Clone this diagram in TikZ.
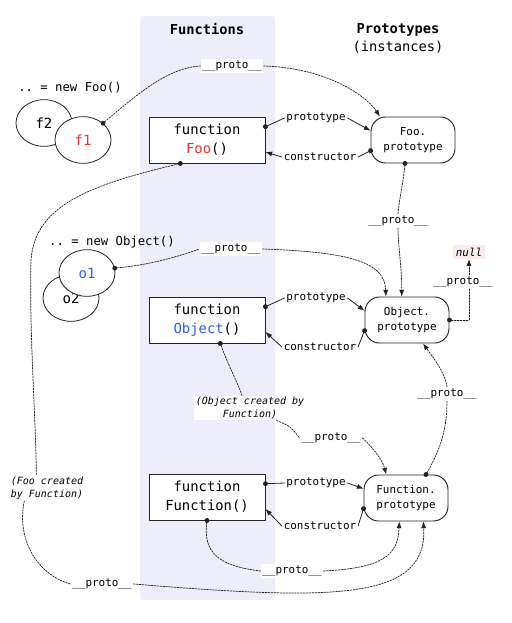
\documentclass[tikz,border=0pt]{standalone}
\usepackage{fontspec}
\setmonofont{DejaVu Sans Mono}
\usetikzlibrary{arrows.meta,shapes.geometric,positioning}
\definecolor{bandcol}{HTML}{EEEEFB}
\definecolor{foocol}{HTML}{E8362C}
\definecolor{objcol}{HTML}{2D5FEA}
\definecolor{nullcol}{HTML}{FBEBEB}
\definecolor{inkcol}{HTML}{222222}
\tikzset{
  fnbox/.style={draw=inkcol,line width=0.7pt,fill=white,minimum width=87pt,minimum height=34.5pt,
    align=center,inner sep=0pt,font=\ttfamily\fontsize{10.4}{14.3}\selectfont},
  protobox/.style={draw=inkcol,line width=0.7pt,fill=white,rounded corners=11pt,minimum width=63pt,
    minimum height=34.5pt,align=center,inner sep=0pt,font=\ttfamily\fontsize{8.2}{11.2}\selectfont},
  inst/.style={ellipse,draw=inkcol,line width=0.6pt,fill=white,minimum width=42pt,minimum height=35pt,
    inner sep=0pt,font=\ttfamily\fontsize{10.5}{12}\selectfont},
  lbl/.style={fill=white,inner sep=1.2pt,font=\ttfamily\fontsize{8.2}{10}\selectfont},
  note/.style={fill=white,inner sep=1pt,align=center,font=\ttfamily\itshape\fontsize{7.5}{9.7}\selectfont},
  caption/.style={font=\ttfamily\fontsize{9.2}{11}\selectfont},
  head/.style={align=center,font=\ttfamily\fontsize{10.3}{13.5}\selectfont},
  ptr/.style={draw=inkcol,line width=0.55pt,dash pattern=on 1.3pt off 0.9pt},
  link/.style={draw=inkcol,line width=0.6pt},
  dot/.style={{Circle[length=3.6pt]}-,shorten <=-1.8pt},
  tip/.style={-{Latex[length=5pt,width=3.8pt]}},
}
\newcommand{\pp}{\_\_proto\_\_}
\begin{document}
\begin{tikzpicture}[x=0.75pt,y=-0.75pt,line cap=round,line join=round]
  \useasboundingbox (0,0) rectangle (511,623);
  \fill[bandcol,rounded corners=2pt] (140,16) rectangle (275,600);
  \node[head] (fnhead) at (207,29) {\textbf{Functions}};
  \node[head] (prhead) at (398,38) {\textbf{Prototypes}\\(instances)};

  \node[caption] (newfoo) at (70,88) {.. = new Foo()};
  \node[inst] (f2) at (44,123) {f2};
  \node[inst] (f1) at (83,140) {\color{foocol}f1};
  \node[fnbox] (fn-foo) at (207,140) {function\\\textcolor{foocol}{Foo}()};
  \node[protobox] (pr-foo) at (413,140) {Foo.\\prototype};

  \node[caption] (newobj) at (112,242) {.. = new Object()};
  \node[inst] (o2) at (71,298) {o2};
  \node[inst] (o1) at (87,273) {\color{objcol}o1};
  \node[fnbox] (fn-obj) at (207,320) {function\\\textcolor{objcol}{Object}()};
  \node[protobox] (pr-obj) at (407,320) {Object.\\prototype};
  \node[fill=nullcol,inner sep=2pt,font=\ttfamily\itshape\fontsize{8.2}{10}\selectfont] (null) at (469,252) {null};

  \node[fnbox] (fn-fun) at (207,497) {function\\Function()};
  \node[protobox] (pr-fun) at (406,498) {Function.\\prototype};

  \node[lbl] (pp-f1) at (232,66) {\pp};
  \node[lbl] (pp-foopr) at (398,221) {\pp};
  \node[lbl] (pp-o1) at (231,249) {\pp};
  \node[lbl] (pp-null) at (463,282) {\pp};
  \node[lbl] (pp-funpr) at (447,394) {\pp};
  \node[note] (objnote) at (250,408) {(Object created by\\Function)};
  \node[lbl] (pp-objfn) at (331,438) {\pp};
  \node[lbl] (pp-funfn) at (292,571) {\pp};
  \node[note] (foonote) at (47,488) {(Foo created\\by Function)};
  \node[lbl] (pp-foofn) at (102,584) {\pp};

  \foreach \row/\py/\cy in {foo/118/157,obj/298/347,fun/483/526}{
    \node[lbl] (pt-\row) at (316,\py) {prototype};
    \node[lbl] (ct-\row) at (320,\cy) {constructor};
    \draw[link,dot] ([yshift=10pt]fn-\row.east) -- (pt-\row.west);
    \draw[link,tip] (pt-\row.east) -- ([yshift=7pt]pr-\row.west);
    \draw[link,dot] ([yshift=-8pt]pr-\row.west) -- (ct-\row.east);
    \draw[link,tip] (ct-\row.west) -- ([yshift=-9pt]fn-\row.east);
  }

  \draw[ptr,dot] (f1.40) .. controls (140,92) and (168,68) .. (pp-f1.west);
  \draw[ptr,tip] (pp-f1.east) .. controls (330,68) and (368,98) .. ([xshift=7pt]pr-foo.north west);

  \draw[ptr,dot] ([xshift=-6pt]pr-foo.south) .. controls (403,185) and (399,200) .. (pp-foopr.north);
  \draw[ptr,tip] (pp-foopr.south) .. controls (398,245) and (402,270) .. ([xshift=-4pt]pr-obj.north);

  \draw[ptr,dot] (o1.10) .. controls (150,265) and (180,256) .. (pp-o1.west);
  \draw[ptr,tip] (pp-o1.east) .. controls (350,252) and (385,262) .. ([xshift=16pt]pr-obj.north west);

  \draw[ptr,dot] (pr-obj.east) -| ([xshift=4.5pt]pp-null.south);
  \draw[ptr,tip] ([xshift=4.5pt]pp-null.north) -- (null.south);

  \draw[ptr,dot] ([xshift=15pt]pr-fun.north) .. controls (440,450) and (447,430) .. (pp-funpr.south);
  \draw[ptr,tip] (pp-funpr.north) .. controls (445,372) and (432,356) .. ([xshift=12pt]pr-obj.south);

  \draw[ptr,dot] ([xshift=10pt]fn-obj.south) .. controls (228,365) and (238,383) .. ([xshift=-6pt]objnote.north);
  \draw[ptr] ([xshift=20pt]objnote.south) .. controls (290,426) .. (pp-objfn.west);
  \draw[ptr,tip] (pp-objfn.east) .. controls (370,445) and (382,458) .. ([xshift=17pt]pr-fun.north west);

  \draw[ptr,dot] (fn-fun.south) .. controls (203,552) and (218,566) .. (pp-funfn.west);
  \draw[ptr,tip] (pp-funfn.east) .. controls (382,568) and (398,556) .. ([xshift=-5pt]pr-fun.south);

  \draw[ptr,dot] ([xshift=-20pt]fn-foo.south) .. controls (90,185) and (35,205) .. (31,260)
    .. controls (29,330) and (36,420) .. ([xshift=-8pt]foonote.north);
  \draw[ptr] ([xshift=-17pt]foonote.south) .. controls (16,540) and (38,575) .. (pp-foofn.west);
  \draw[ptr,tip] (pp-foofn.east) .. controls (330,600) and (428,602) .. ([xshift=13pt]pr-fun.south);
\end{tikzpicture}
\end{document}
